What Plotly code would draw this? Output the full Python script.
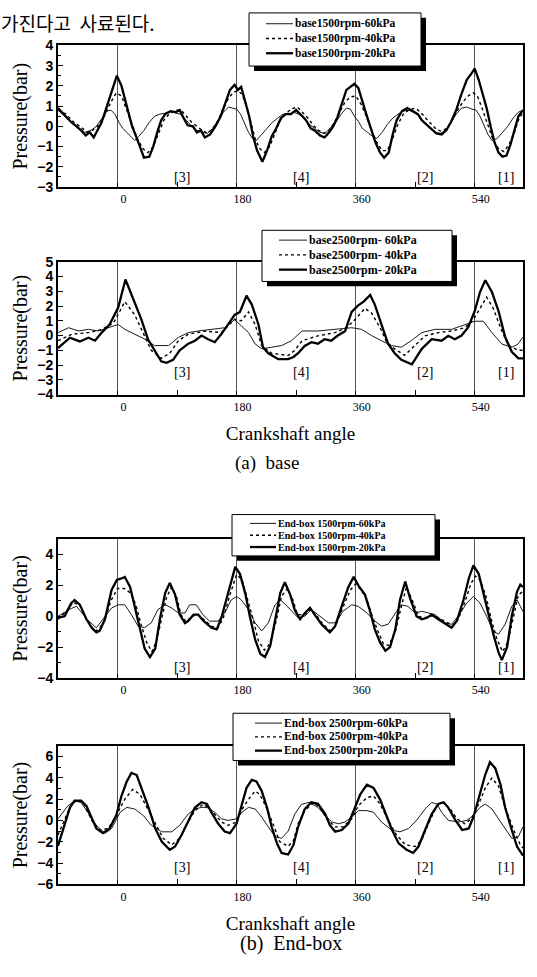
import plotly.graph_objects as go

# ---------------- DATA ----------------
# Panel 1 : base 1500 rpm
b15_60_x = [-90,-80,-70,-60,-50,-40,-32,-24,-16,-10,-4,2,8,14,20,26,32,40,48,56,64,72,80,88,96,104,112,120,128,136,144,152,160,168,174,180,186,192,198,204,210,218,226,234,242,250,258,266,274,282,290,298,306,314,322,330,338,346,352,358,364,370,378,386,392,400,408,416,424,432,440,448,456,464,472,480,488,496,504,512,520,528,536,542,548,554,560,566,574,582,590,598,606,613]
b15_60_y = [0.8,0.5,0.2,-0.1,-0.3,-0.2,0.0,0.4,0.75,0.8,0.6,0.2,-0.1,-0.3,-0.5,-0.7,-0.5,-0.2,0.2,0.5,0.6,0.65,0.75,0.65,0.6,0.3,0.0,-0.2,-0.3,-0.35,-0.1,0.3,0.7,0.95,0.9,0.85,0.6,0.1,-0.3,-0.6,-0.7,-0.4,-0.1,0.2,0.4,0.6,0.6,0.7,0.6,0.4,0.1,-0.1,-0.3,-0.35,-0.1,0.2,0.6,0.9,0.85,0.5,0.25,-0.1,-0.3,-0.5,-0.6,-0.3,0.1,0.4,0.6,0.75,0.8,0.7,0.5,0.2,-0.1,-0.3,-0.35,-0.2,0.2,0.6,0.9,0.95,0.85,0.8,0.5,0.0,-0.4,-0.7,-0.6,-0.3,0.0,0.4,0.7,0.8]
b15_40_x = [-90,-78,-66,-55,-46,-38,-30,-20,-10,-2,6,14,22,30,38,46,54,62,70,78,88,96,104,112,120,128,136,144,152,160,168,176,182,188,195,202,208,215,222,230,238,246,254,262,272,280,288,296,304,312,320,328,336,344,352,360,368,376,384,392,400,408,416,424,432,440,450,458,466,474,482,490,498,506,514,522,530,538,544,550,556,562,568,576,584,592,600,606,613]
b15_40_y = [0.8,0.6,0.2,-0.05,-0.3,-0.2,0.0,0.5,1.2,1.65,1.5,0.8,0.1,-0.6,-1.1,-1.3,-1.0,-0.3,0.3,0.6,0.8,0.8,0.5,0.2,0.0,-0.2,-0.35,-0.1,0.3,0.9,1.4,1.7,1.75,1.6,1.0,0.1,-0.6,-1.1,-1.3,-1.0,-0.3,0.3,0.6,0.85,0.95,0.7,0.4,0.05,-0.2,-0.35,-0.2,0.2,0.7,1.2,1.45,1.5,1.1,0.5,-0.2,-0.8,-1.2,-1.2,-0.6,0.1,0.6,0.8,0.9,0.7,0.4,0.1,-0.15,-0.25,-0.1,0.3,0.8,1.2,1.5,1.65,1.5,1.0,0.4,-0.2,-0.7,-1.1,-1.25,-0.9,-0.3,0.3,0.7]
b15_20_x = [-90,-80,-70,-62,-55,-48,-42,-36,-30,-24,-16,-8,-1,6,14,22,28,34,40,48,54,60,66,72,80,88,94,100,106,114,120,126,132,140,148,156,164,170,177,182,187,193,199,205,211,219,226,233,240,247,254,262,270,278,285,292,298,306,313,320,326,332,340,346,352,358,364,370,377,384,390,397,403,410,416,422,430,438,446,454,460,468,476,482,490,497,504,512,520,528,535,540,546,552,558,564,570,576,582,588,594,600,606,613]
b15_20_y = [0.9,0.55,0.2,0.0,-0.2,-0.45,-0.3,-0.55,-0.2,0.2,1.0,1.8,2.5,2.0,1.0,0.0,-0.5,-1.0,-1.55,-1.5,-1.0,-0.3,0.3,0.6,0.75,0.7,0.8,0.4,0.05,0.0,-0.3,-0.2,-0.55,-0.4,0.0,0.5,1.3,1.8,2.05,1.8,1.95,1.2,0.5,-0.5,-1.2,-1.75,-1.2,-0.5,-0.1,0.4,0.6,0.6,0.8,0.55,0.3,-0.1,-0.2,-0.45,-0.55,-0.3,0.0,0.4,1.2,1.8,1.95,2.1,1.9,1.2,0.5,-0.2,-0.8,-1.3,-1.55,-1.3,-0.4,0.3,0.75,0.9,0.75,0.6,0.3,0.05,-0.15,-0.35,-0.4,-0.2,0.2,0.8,1.6,2.3,2.6,2.85,2.3,1.6,0.9,0.0,-0.8,-1.3,-1.5,-1.45,-0.9,-0.2,0.5,0.8]

# Panel 2 : base 2500 rpm
b25_60_x = [-90,-74,-59,-44,-29,-14,1,11,26,41,56,77,92,107,122,142,162,177,187,198,208,218,233,248,263,279,303,329,354,369,384,399,414,429,444,460,480,505,525,540,553,566,581,596,605,613]
b25_60_y = [0.2,0.53,0.31,0.42,0.31,0.53,0.75,0.42,0.09,-0.24,-0.68,-0.68,-0.13,0.2,0.31,0.42,0.53,1.08,0.64,0.2,-0.57,-0.9,-0.79,-0.68,-0.35,0.31,0.31,0.42,0.53,0.42,0.0,-0.35,-0.68,-0.79,-0.35,0.2,0.42,0.42,0.75,0.97,0.97,0.2,-0.57,-0.79,-0.6,-0.1]
b25_40_x = [-90,-69,-44,-24,-6,11,26,39,51,66,79,92,107,132,157,177,187,198,208,218,233,258,268,279,303,329,346,359,374,384,397,407,419,434,450,465,485,505,525,538,551,558,568,581,591,606,613]
b25_40_y = [-0.35,0.09,0.2,0.4,0.85,2.3,1.4,0.1,-1.0,-1.55,-1.2,-0.35,0.09,0.3,0.2,1.1,1.0,1.6,0.75,-0.7,-1.2,-1.35,-1.0,-0.35,-0.02,0.2,0.53,1.08,1.85,1.52,0.53,-0.46,-0.9,-1.34,-0.68,-0.02,0.2,0.31,0.53,1.08,2.07,2.6,1.85,0.31,-0.68,-1.0,-1.0]
b25_20_x = [-90,-72,-57,-44,-34,-24,-12,1,12,26,36,46,56,66,74,84,94,107,117,127,137,147,157,167,177,185,195,203,213,220,228,243,258,266,273,283,293,303,313,323,333,344,354,364,372,382,389,399,409,419,429,445,452,460,475,490,500,510,520,530,540,548,556,566,576,586,596,606,613]
b25_20_y = [-0.85,-0.15,-0.4,-0.15,-0.35,0.2,0.75,1.9,3.8,2.3,1.1,-0.25,-1.0,-1.75,-1.85,-1.65,-1.0,-0.55,-0.35,0.0,-0.25,-0.45,0.1,0.75,1.4,1.6,2.7,2.1,0.75,-0.8,-1.2,-1.6,-1.6,-1.45,-1.2,-0.7,-0.45,-0.55,-0.25,-0.35,0.0,0.3,1.6,2.05,2.3,2.75,2.1,0.75,-0.55,-1.2,-1.65,-1.95,-1.45,-0.9,-0.25,-0.35,-0.02,-0.25,0.0,0.55,1.65,2.95,3.75,2.95,1.65,-0.1,-1.1,-1.55,-1.55]

# Panel 3 : End-box 1500 rpm
e15_60_x = [-90,-70,-62,-44,-32,-22,-9,1,11,21,31,41,51,61,72,82,92,102,109,119,129,139,152,162,172,180,187,198,208,218,228,238,246,253,263,273,283,293,303,319,329,341,354,364,377,389,399,409,422,429,439,450,460,470,480,495,505,515,528,538,548,558,568,576,586,596,604,613]
e15_60_y = [0.0,0.5,0.64,-0.3,-0.75,-0.21,0.53,0.74,0.74,0.1,-0.64,-0.74,-0.43,0.43,0.74,0.53,0.21,0.21,0.74,0.74,0.1,-0.32,-0.32,0.21,1.06,1.28,1.06,0.43,-0.43,-0.96,-0.43,0.74,1.06,0.8,0.32,-0.1,0.0,0.43,0.1,-0.43,-0.43,0.32,0.74,0.64,0.21,-0.32,-0.64,-0.53,0.32,0.74,0.64,0.21,0.32,0.21,0.1,-0.43,-0.53,0.0,0.85,1.28,0.85,0.0,-0.96,-1.17,-0.53,0.64,1.06,0.3]
e15_40_x = [-90,-78,-67,-57,-47,-37,-30,-20,-10,0,10,20,28,36,44,52,59,66,74,81,89,96,104,112,122,130,142,152,160,170,180,188,196,205,213,222,230,240,248,256,264,272,283,292,300,310,322,330,341,352,360,368,377,385,394,402,410,420,430,437,445,455,462,470,478,488,498,507,515,526,534,541,549,557,565,573,582,590,598,606,613]
e15_40_y = [-0.2,0.3,0.9,0.7,-0.2,-0.8,-0.95,-0.3,1.0,1.8,1.8,1.5,0.7,-0.6,-1.7,-2.3,-1.6,-0.2,1.2,1.85,1.3,0.1,-0.4,0.0,0.1,-0.2,-0.65,-0.75,-0.1,1.4,2.7,2.4,1.2,-0.2,-1.6,-2.2,-1.8,-0.3,1.3,1.75,1.2,0.1,0.1,0.45,0.1,-0.5,-0.95,-0.6,0.6,1.7,2.1,1.7,1.1,0.0,-1.0,-1.8,-1.9,-1.0,0.8,1.9,1.1,0.0,-0.1,-0.05,0.05,-0.2,-0.4,-0.6,-0.2,1.0,2.1,2.6,2.3,1.3,-0.2,-1.4,-2.3,-1.7,-0.2,1.4,1.6]
e15_20_x = [-90,-80,-70,-65,-57,-47,-39,-32,-27,-19,-9,-1,6,11,19,26,34,41,49,57,64,72,79,87,94,102,107,115,122,130,142,150,157,168,178,185,193,200,208,216,223,231,238,246,253,261,268,276,283,291,298,309,321,329,339,349,357,364,374,382,389,397,405,412,420,427,435,442,452,460,468,475,485,495,505,513,523,531,538,546,553,561,569,576,581,589,596,604,609,613]
e15_20_y = [-0.1,0.0,0.85,1.05,0.75,-0.2,-0.75,-1.05,-0.95,-0.2,1.7,2.35,2.45,2.55,1.9,0.65,-0.85,-2.1,-2.65,-2.1,-0.2,1.5,2.15,1.4,0.1,-0.45,-0.3,0.1,0.1,-0.3,-0.75,-0.85,-0.1,1.7,3.2,2.75,1.5,0.0,-1.5,-2.45,-2.65,-1.9,-0.2,1.5,2.2,1.4,0.4,-0.2,0.2,0.55,0.1,-0.55,-1.05,-0.65,0.65,1.9,2.55,2.0,1.4,0.3,-0.85,-1.7,-2.25,-2.0,-0.85,1.05,2.25,1.2,0.0,-0.2,-0.1,0.1,-0.2,-0.45,-0.75,-0.3,1.05,2.45,3.3,2.75,1.5,0.0,-1.3,-2.35,-2.85,-2.0,0.0,1.6,2.05,1.9]

# Panel 4 : End-box 2500 rpm
e25_60_x = [-90,-75,-65,-55,-45,-32,-19,-9,4,14,26,39,51,67,82,94,107,117,127,135,147,157,167,180,188,198,208,218,228,238,248,258,268,278,290,303,314,324,334,344,357,364,377,387,399,415,427,440,452,465,475,483,490,500,516,528,538,548,556,566,576,586,596,606,613]
e25_60_y = [0.15,1.37,1.83,1.68,0.76,-0.46,-1.22,-0.76,0.76,1.22,1.07,0.46,-0.46,-1.07,-1.07,-0.46,0.61,1.07,1.22,1.22,0.76,0.15,0.0,0.15,0.76,1.22,1.07,0.31,-0.61,-1.53,-1.68,-1.0,0.6,1.5,1.7,1.22,0.46,-0.15,-0.31,-0.15,0.46,0.92,0.92,0.76,-0.15,-0.92,-1.07,-0.76,0.0,1.07,1.68,1.53,0.76,0.0,-0.15,0.0,0.46,1.22,1.53,1.07,0.15,-0.76,-1.68,-1.53,-0.6]
e25_40_x = [-90,-80,-70,-62,-52,-39,-27,-14,-2,11,23,34,44,57,69,82,94,104,117,130,142,157,167,180,190,200,208,215,225,235,245,258,266,273,283,296,306,316,329,341,354,364,377,387,397,407,420,435,450,460,470,483,493,503,513,525,535,546,556,566,576,586,599,609,613]
e25_40_y = [-1.37,0.0,1.53,1.83,1.68,0.0,-0.92,-0.76,0.46,2.0,2.9,2.44,1.22,-0.31,-1.68,-2.29,-1.68,-0.46,0.92,1.53,0.92,-0.15,-0.46,-0.15,1.22,2.14,2.75,2.44,1.22,-0.31,-1.98,-2.44,-1.9,-0.31,0.92,1.68,1.22,0.15,-0.61,-0.61,0.15,1.37,2.14,2.29,1.53,0.31,-1.22,-2.29,-2.44,-1.83,-0.31,1.37,1.68,1.07,0.15,-0.31,0.15,1.53,3.05,3.97,3.21,1.22,-0.92,-2.29,-2.6]
e25_20_x = [-90,-80,-72,-65,-55,-47,-39,-32,-22,-12,-2,6,14,21,29,36,47,57,67,79,87,97,107,117,127,135,142,152,162,170,180,188,195,203,210,218,226,233,241,248,258,266,273,283,293,303,314,321,329,339,349,357,367,377,387,397,405,415,425,437,447,455,465,475,485,493,500,511,521,531,538,546,556,563,571,579,586,596,604,613]
e25_20_y = [-2.4,-0.45,1.2,1.85,1.85,1.35,0.3,-0.75,-1.2,-0.75,0.45,2.3,3.65,4.45,4.25,3.05,1.2,-0.75,-2.0,-2.75,-2.45,-1.35,0.0,1.2,1.7,1.55,0.75,-0.3,-1.05,-1.2,-0.3,1.55,3.05,3.8,3.65,2.75,1.2,-0.6,-2.15,-3.05,-3.2,-2.3,-0.6,1.05,1.7,1.55,0.6,-0.45,-1.05,-0.9,-0.3,0.9,2.45,3.35,3.05,1.95,0.6,-0.9,-2.15,-2.75,-3.05,-2.45,-0.9,0.6,1.55,1.7,1.2,0.0,-0.9,-0.75,0.3,2.15,4.3,5.45,4.9,3.35,1.2,-0.9,-2.45,-3.3]

panel_names = [
    ["base1500rpm-60kPa", "base1500rpm-40kPa", "base1500rpm-20kPa"],
    ["base2500rpm- 60kPa", "base2500rpm- 40kPa", "base2500rpm- 20kPa"],
    ["End-box 1500rpm-60kPa", "End-box 1500rpm-40kPa", "End-box 1500rpm-20kPa"],
    ["End-box 2500rpm-60kPa", "End-box 2500rpm-40kPa", "End-box 2500rpm-20kPa"],
]
panel_data = [
    [(b15_60_x, b15_60_y), (b15_40_x, b15_40_y), (b15_20_x, b15_20_y)],
    [(b25_60_x, b25_60_y), (b25_40_x, b25_40_y), (b25_20_x, b25_20_y)],
    [(e15_60_x, e15_60_y), (e15_40_x, e15_40_y), (e15_20_x, e15_20_y)],
    [(e25_60_x, e25_60_y), (e25_40_x, e25_40_y), (e25_20_x, e25_20_y)],
]
y_ranges = [[-3, 4], [-4, 5], [-4, 5], [-6, 7]]
y_dticks = [1, 1, 2, 2]
y_minor = [0.5, None, 1, 1]
x_tickvals = [0, 180, 360, 540]
x_minor_vals = [90, 270, 450]
cyl_labels = ["[3]", "[4]", "[2]", "[1]"]
cyl_x = [98, 277, 465, 588]
cyl_y = [-2.55, -2.5, -3.3, -4.45]

# ---------------- LAYOUT ----------------
W, H = 537, 977
x_dom = [58 / W, 523 / W]
y_px = [(38, 182), (258, 393), (540, 681), (750, 891)]
legend_box = [(249, 5, 421, 59), (262, 226, 452, 278), (232, 515, 435, 557), (233, 717, 450, 765)]
legend_key = [(266, 293), (279, 307), (250, 276), (255, 282)]
legend_rows = [(16, 31, 46), (236, 251, 266), (524, 536, 548), (727, 741, 755)]
legend_font = [11.5, 12, 10, 11.5]

styles = [
    dict(color="black", width=0.9, dash="solid"),
    dict(color="black", width=1.4, dash="dot"),
    dict(color="black", width=2.3, dash="solid"),
]

fig = go.Figure()
serif = "Liberation Serif"

def px_x(v):
    return v / W

def px_y(v):
    return 1 - v / H

for p in range(4):
    ax = "" if p == 0 else str(p + 1)
    for k in range(3):
        xs, ys = panel_data[p][k]
        fig.add_trace(go.Scatter(
            x=xs, y=ys, mode="lines", name=panel_names[p][k],
            line=styles[k], xaxis="x" + ax, yaxis="y" + ax, showlegend=False))
    top, bot = y_px[p]
    ydom = [1 - bot / H, 1 - top / H]
    xa = dict(domain=x_dom, range=[-90, 613], anchor="y" + ax,
              tickvals=x_tickvals, ticktext=[str(v) for v in x_tickvals],
              ticks="inside", ticklen=4, tickcolor="black",
              minor=dict(tickvals=x_minor_vals, ticks="inside", ticklen=5, tickcolor="black"),
              showgrid=True, gridcolor="#555555", gridwidth=0.8,
              showline=True, linecolor="black", linewidth=2, mirror=True,
              zeroline=False, ticklabelshift=6,
              tickfont=dict(family=serif, size=12, color="black"))
    if p in (1, 3):
        xa["title"] = dict(text="Crankshaft angle", font=dict(family=serif, size=19, color="black"), standoff=14)
    ya = dict(domain=ydom, range=y_ranges[p], anchor="x" + ax, dtick=y_dticks[p], tick0=0,
              ticks="inside", ticklen=5, tickcolor="black",
              showgrid=False, zeroline=False,
              showline=True, linecolor="black", linewidth=2, mirror=True,
              tickfont=dict(family="Liberation Sans", size=14, color="black", weight="bold"),
              title=dict(text="Pressure(bar)", font=dict(family=serif, size=20, color="black"), standoff=4))
    if y_minor[p] is not None:
        ya["minor"] = dict(dtick=y_minor[p], ticks="inside", ticklen=3, tickcolor="black")
    fig.layout["xaxis" + ax] = xa
    fig.layout["yaxis" + ax] = ya

    # legend box with drop shadow
    lx0, ly0, lx1, ly1 = legend_box[p]
    fig.add_shape(type="rect", xref="paper", yref="paper",
                  x0=px_x(lx0 + 5), x1=px_x(lx1 + 5), y0=px_y(ly1 + 5), y1=px_y(ly0 + 5),
                  fillcolor="black", line=dict(width=0), layer="above")
    fig.add_shape(type="rect", xref="paper", yref="paper",
                  x0=px_x(lx0), x1=px_x(lx1), y0=px_y(ly1), y1=px_y(ly0),
                  fillcolor="white", line=dict(color="black", width=1), layer="above")
    kx0, kx1 = legend_key[p]
    for k in range(3):
        ry = legend_rows[p][k]
        fig.add_shape(type="line", xref="paper", yref="paper",
                      x0=px_x(kx0), x1=px_x(kx1), y0=px_y(ry), y1=px_y(ry),
                      line=styles[k], layer="above")
        fig.add_annotation(x=px_x(kx1 + 1), y=px_y(ry), xref="paper", yref="paper",
                           xanchor="left", yanchor="middle", text=panel_names[p][k],
                           showarrow=False, borderpad=0,
                           font=dict(family=serif, size=legend_font[p], color="black", weight="bold"))

    for lab, cx in zip(cyl_labels, cyl_x):
        fig.add_annotation(x=cx, y=cyl_y[p], xref="x" + ax, yref="y" + ax, text=lab,
                           showarrow=False, font=dict(family=serif, size=14, color="black"))

fig.add_annotation(x=267 / W, y=1 - 463 / H, xref="paper", yref="paper", text="(a)  base",
                   showarrow=False, font=dict(family=serif, size=19, color="black"))
fig.add_annotation(x=291 / W, y=1 - 965 / H, xref="paper", yref="paper", text="(b)  End-box",
                   showarrow=False, font=dict(family=serif, size=20, color="black"))
fig.add_annotation(x=0.0, y=1.0, xref="paper", yref="paper", xanchor="left", yanchor="top",
                   text="가진다고  사료된다.", showarrow=False, borderpad=0,
                   font=dict(family="Noto Sans CJK KR", size=19, color="black"))

fig.update_layout(width=W, height=H, margin=dict(l=0, r=0, t=0, b=0),
                  paper_bgcolor="white", plot_bgcolor="white", showlegend=False)
fig.write_html("out.html")
